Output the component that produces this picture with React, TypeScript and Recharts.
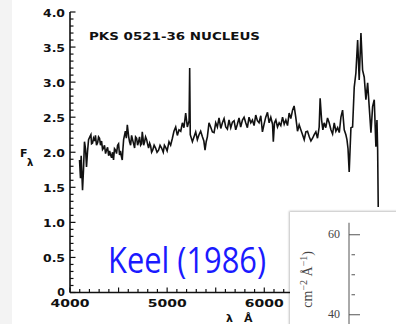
import { Line, LineChart, XAxis, YAxis } from "recharts";

// wavelength (Å) and F_lambda of the nucleus spectrum
const wave = [
  4098, 4108, 4115, 4129, 4139, 4149, 4160, 4170, 4180, 4191, 4204, 4215, 4222, 4232, 4242, 4252,
  4262, 4273, 4285, 4294, 4304, 4314, 4325, 4335, 4345, 4355, 4366, 4376, 4387, 4398, 4408, 4418,
  4428, 4438, 4448, 4458, 4469, 4479, 4490, 4500, 4510, 4520, 4528, 4538, 4545, 4552, 4570, 4580,
  4590, 4596, 4603, 4613, 4624, 4634, 4644, 4655, 4665, 4675, 4686, 4696, 4706, 4716, 4727, 4736,
  4744, 4752, 4758, 4768, 4778, 4789, 4798, 4809, 4820, 4830, 4840, 4851, 4866, 4881, 4896, 4912,
  4927, 4943, 4960, 4972, 4985, 5000, 5019, 5036, 5054, 5070, 5088, 5105, 5122, 5140, 5157, 5173,
  5191, 5208, 5226, 5232, 5238, 5260, 5277, 5294, 5311, 5328, 5345, 5363, 5378, 5390, 5402, 5414,
  5431, 5448, 5466, 5483, 5500, 5517, 5534, 5552, 5569, 5586, 5603, 5620, 5637, 5655, 5672, 5689,
  5706, 5723, 5740, 5757, 5775, 5792, 5809, 5826, 5843, 5861, 5878, 5895, 5912, 5929, 5946, 5964,
  5981, 5998, 6015, 6033, 6050, 6067, 6085, 6093, 6105, 6119, 6136, 6153, 6170, 6188, 6205, 6222,
  6239, 6256, 6273, 6291, 6307, 6325, 6342, 6359, 6376, 6394, 6411, 6428, 6445, 6463, 6480, 6497,
  6514, 6531, 6548, 6565, 6575, 6590, 6603, 6616, 6633, 6651, 6668, 6686, 6703, 6720, 6737, 6755,
  6772, 6789, 6806, 6823, 6840, 6851, 6862, 6874, 6892, 6909, 6926, 6943, 6961, 6977, 6995, 7012,
  7029, 7046, 7064, 7080, 7098, 7115, 7132, 7149, 7160, 7167, 7173,
];
const flux = [
  1.89, 1.63, 1.95, 1.46, 1.75, 2.15, 2.05, 1.79, 2.0, 2.18, 2.22, 2.25, 2.12, 2.13, 2.2, 2.16,
  2.24, 2.1, 2.14, 2.22, 2.2, 2.1, 2.16, 2.04, 2.06, 2.1, 1.98, 2.03, 2.07, 1.95, 2.02, 1.96,
  1.92, 2.0, 1.89, 2.05, 2.03, 1.98, 2.1, 2.12, 1.96, 2.02, 1.95, 1.89, 2.05, 2.18, 2.3, 2.2,
  2.39, 2.32, 2.23, 2.15, 2.1, 2.24, 2.18, 2.12, 2.06, 2.22, 2.2, 2.1, 2.15, 2.22, 2.1, 2.12,
  2.29, 2.2, 2.1, 2.15, 2.22, 2.18, 2.12, 2.06, 2.13, 2.09, 2.0, 2.03, 2.1, 2.06, 2.0, 2.03,
  2.1, 2.06, 2.0, 2.1, 2.07, 2.02, 2.15, 2.1, 2.2, 2.3, 2.36, 2.24, 2.32, 2.3, 2.42, 2.35,
  2.56, 2.36, 2.45, 3.2, 2.25, 2.15, 2.22, 2.29, 2.18, 2.25, 2.3, 2.22, 2.16, 2.03, 2.15, 2.22,
  2.42, 2.36, 2.29, 2.28, 2.42, 2.36, 2.49, 2.34, 2.42, 2.48, 2.36, 2.33, 2.46, 2.35, 2.43, 2.45,
  2.32, 2.4, 2.49, 2.36, 2.46, 2.5, 2.42, 2.35, 2.5, 2.42, 2.46, 2.38, 2.53, 2.45, 2.42, 2.52,
  2.29, 2.4, 2.5, 2.57, 2.42, 2.5, 2.4, 2.15, 2.42, 2.46, 2.36, 2.42, 2.38, 2.5, 2.4, 2.46,
  2.38, 2.56, 2.48, 2.6, 2.66, 2.49, 2.3, 2.39, 2.32, 2.25, 2.18, 2.29, 2.3, 2.22, 2.16, 2.2,
  2.25, 2.29, 2.2, 2.36, 2.77, 2.46, 2.32, 2.42, 2.35, 2.49, 2.42, 2.32, 2.26, 2.42, 2.3, 2.35,
  2.28, 2.5, 2.6, 2.32, 2.25, 2.18, 2.05, 1.72, 2.35, 2.36, 2.93, 3.13, 3.6, 3.03, 3.7, 3.17,
  3.07, 2.75, 2.99, 2.65, 2.28, 2.65, 2.75, 2.08, 2.46, 2.04, 1.22,
];

const xLabels = [4000, 5000, 6000, 7000];
const yLabels = [0, 0.5, 1.0, 1.5, 2.0, 2.5, 3.0, 3.5, 4.0];

// second panel (only its frame shows)
const insetWave = [3850, 4400];
const insetFluxRange = [20, 63];
const insetLabels = [20, 40, 60];

const spectrum = wave.map((w, i) => ({ w, f: flux[i] }));
const xTicks = Array.from({ length: 36 }, (_, i) => 4000 + i * 100);
const yTicks = Array.from({ length: 41 }, (_, i) => i / 10);
const insetXTicks = [3900, 4000, 4100, 4200, 4300];
const insetYTicks = Array.from({ length: 9 }, (_, i) => 20 + i * 5);

// plot frame of the main panel, in chart pixels
const PLOT_L = 70;
const PLOT_T = 12;
const PLOT_B = 292.5;
// frame of the small panel, in its own chart pixels
const INSET_L = 59;
const INSET_T = 10.75;

const ink = "#111";
const scanFont = "'DejaVu Sans', sans-serif";
const insetInk = "#555";

function BottomTick({ x, payload }: any) {
  const v = payload.value as number;
  const label = xLabels.includes(v);
  return (
    <g>
      <line x1={x} x2={x} y1={PLOT_B} y2={PLOT_B - (v % 500 === 0 ? 5 : 3.5)} stroke={ink} strokeWidth={1.2} />
      {label && (
        <text x={x} y={PLOT_B + 14.5} textAnchor="middle" fontFamily={scanFont} fontWeight="bold" fontSize={11} fill={ink} textLength={39} lengthAdjust="spacingAndGlyphs">
          {v}
        </text>
      )}
    </g>
  );
}

function TopTick({ x, payload }: any) {
  const v = payload.value as number;
  return <line x1={x} x2={x} y1={PLOT_T} y2={PLOT_T + (v % 500 === 0 ? 5 : 3.5)} stroke={ink} strokeWidth={1.2} />;
}

function LeftTick({ y, payload }: any) {
  const v = payload.value as number;
  const label = yLabels.find((l) => Math.abs(l - v) < 1e-6);
  const major = label !== undefined;
  return (
    <g>
      <line x1={PLOT_L} x2={PLOT_L + (major ? 5.5 : 3.5)} y1={y} y2={y} stroke={ink} strokeWidth={1.2} />
      {major && (
        <text x={PLOT_L - 5} y={y + (label === 0 ? 3 : 4.5)} textAnchor="end" fontFamily={scanFont} fontWeight="bold" fontSize={11} fill={ink} textLength={label === 0 ? undefined : 22} lengthAdjust="spacingAndGlyphs">
          {label === 0 ? "0" : label!.toFixed(1)}
        </text>
      )}
    </g>
  );
}

function InsetTopTick({ x, payload }: any) {
  const v = payload.value as number;
  return <line x1={x} x2={x} y1={INSET_T} y2={INSET_T + (v % 500 === 0 ? 8 : 4.5)} stroke={insetInk} strokeWidth={1} />;
}

function InsetLeftTick({ y, payload }: any) {
  const v = payload.value as number;
  const major = insetLabels.includes(v);
  return (
    <g>
      <line x1={INSET_L + (major ? 0 : 2.5)} x2={INSET_L + (major ? 11 : 6)} y1={y} y2={y} stroke={insetInk} strokeWidth={1} />
      {major && (
        <text x={INSET_L - 9} y={y + 3.5} textAnchor="end" fontFamily="'Liberation Serif', serif" fontSize={12} fill="#444">
          {v}
        </text>
      )}
    </g>
  );
}

export default function App() {
  return (
    <div style={{ position: "fixed", left: 0, top: 0, width: 396, height: 324, overflow: "hidden", background: "#fff" }}>
      <div style={{ position: "absolute", left: 0, top: 0, width: 12, height: 324, background: "#f3f3f3" }} />
      <div style={{ position: "absolute", left: 0, top: 0 }}>
        <LineChart width={410} height={324} data={spectrum} margin={{ top: PLOT_T, right: 0, bottom: 0, left: 0 }}>
          <XAxis xAxisId="b" dataKey="w" type="number" domain={[4000, 7500]} ticks={xTicks} interval={0} orientation="bottom" height={324 - PLOT_B} tickSize={0} tickMargin={0} tickLine={false} axisLine={{ stroke: ink, strokeWidth: 1.6 }} tick={BottomTick} allowDataOverflow />
          <XAxis xAxisId="t" dataKey="w" type="number" domain={[4000, 7500]} ticks={xTicks} interval={0} orientation="top" height={0} tickSize={0} tickMargin={0} tickLine={false} axisLine={{ stroke: ink, strokeWidth: 1.6 }} tick={TopTick} allowDataOverflow />
          <YAxis yAxisId="l" type="number" domain={[0, 4]} ticks={yTicks} interval={0} width={PLOT_L} tickSize={0} tickMargin={0} tickLine={false} axisLine={{ stroke: ink, strokeWidth: 1.6 }} tick={LeftTick} allowDataOverflow />
          <Line xAxisId="b" yAxisId="l" type="linear" dataKey="f" stroke={ink} strokeWidth={1.6} dot={false} isAnimationActive={false} />
        </LineChart>
      </div>
      <svg width={396} height={324} style={{ position: "absolute", left: 0, top: 0, pointerEvents: "none" }}>
        <text x={89} y={39.5} fontFamily={scanFont} fontWeight="bold" fontSize={11} fill={ink} textLength={171} lengthAdjust="spacingAndGlyphs">
          PKS 0521-36 NUCLEUS
        </text>
        <text x={20} y={157} fontFamily={scanFont} fontWeight="bold" fontSize={11} fill={ink}>F</text>
        <text x={27} y={166} fontFamily={scanFont} fontWeight="bold" fontSize={10} fill={ink}>λ</text>
        <text x={226} y={321.5} fontFamily={scanFont} fontWeight="bold" fontSize={11} fill={ink}>λ</text>
        <text x={244} y={321.5} fontFamily={scanFont} fontWeight="bold" fontSize={11} fill={ink}>Å</text>
        <text x={108} y={273} fontFamily="'Open Sans', sans-serif" fontSize={36} fill="#1a1aff" textLength={158} lengthAdjust="spacingAndGlyphs">
          Keel (1986)
        </text>
      </svg>
      <div style={{ position: "absolute", left: 290, top: 212, width: 120, height: 130, background: "#fff", boxShadow: "-1px -1px 2px rgba(0,0,0,0.25)" }}>
        <LineChart width={150} height={190} data={insetWave.map((w, i) => ({ w, f: insetFluxRange[i] }))} margin={{ top: INSET_T, right: 0, bottom: 7.25, left: 0 }}>
          <XAxis xAxisId="t" dataKey="w" type="number" domain={[3850, 4400]} ticks={insetXTicks} interval={0} orientation="top" height={0} tickSize={0} tickMargin={0} tickLine={false} axisLine={{ stroke: insetInk, strokeWidth: 1 }} tick={InsetTopTick} allowDataOverflow />
          <YAxis yAxisId="l" dataKey="f" type="number" domain={[20, 63]} ticks={insetYTicks} interval={0} width={INSET_L} tickSize={0} tickMargin={0} tickLine={false} axisLine={{ stroke: insetInk, strokeWidth: 1 }} tick={InsetLeftTick} allowDataOverflow />
        </LineChart>
        <svg width={120} height={130} style={{ position: "absolute", left: 0, top: 0, pointerEvents: "none" }}>
          <text transform="translate(22 39) rotate(-90)" textAnchor="end" fontFamily="'Liberation Serif', serif" fontSize={14} fill="#444">
            cm<tspan dy={-5} fontSize={10}>−2</tspan>
            <tspan dy={5}> Å</tspan>
            <tspan dy={-5} fontSize={10}>−1</tspan>
            <tspan dy={5}>)</tspan>
          </text>
        </svg>
      </div>
    </div>
  );
}
